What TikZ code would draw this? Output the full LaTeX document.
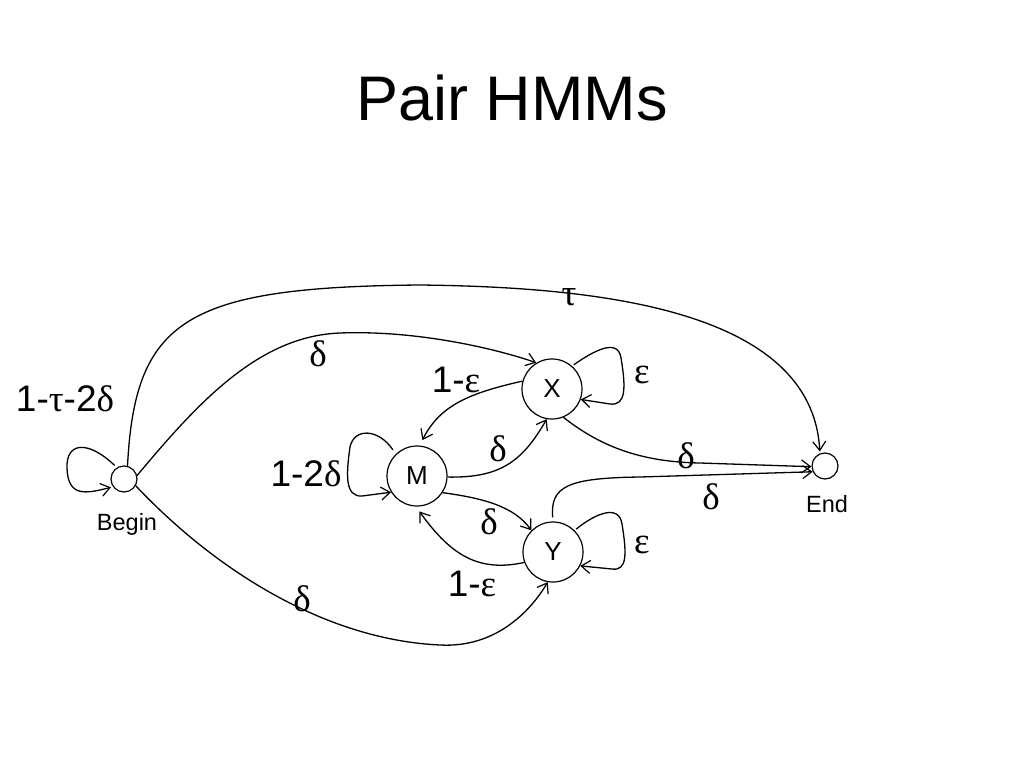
\documentclass[tikz,border=0pt]{standalone}
\usepackage{fontspec}
\setmainfont{Liberation Sans}
\newfontfamily\greekfont{Liberation Serif}
\usetikzlibrary{arrows.meta}
\newcommand{\gr}[1]{{\greekfont #1}}
\begin{document}
\begin{tikzpicture}[x=1pt,y=-1pt,
  stbig/.style={circle,draw,line width=1.2pt,inner sep=0pt,font=\fontsize{26}{28}\selectfont},
  stsmall/.style={circle,draw,line width=1.2pt,inner sep=0pt,minimum size=26pt},
  conn/.style={line width=1.3pt,-{Straight Barb[length=9pt,width=13pt,line width=1.2pt]}},
  lbl/.style={inner sep=0pt,font=\fontsize{37}{40}\selectfont},
  glbl/.style={inner sep=0pt,font=\fontsize{37}{40}\greekfont},
  nmlbl/.style={inner sep=0pt,font=\fontsize{23.5}{26}\selectfont}]
\useasboundingbox (0,0) rectangle (1024,768);
\fill[white] (0,0) rectangle (1024,768);
\node[inner sep=0pt,font=\fontsize{63}{70}\selectfont] (title) at (512,98) {Pair HMMs};
% states
\node[stsmall] (B) at (124,479) {};
\node[stsmall] (E) at (825,466) {};
\node[stbig,minimum size=60pt] (M) at (417,476) {M};
\node[stbig,minimum size=60pt] (X) at (552,389) {X};
\node[stbig,minimum size=60pt] (Y) at (553,552) {Y};
\node[nmlbl] (Bl) at (127,524) {Begin};
\node[nmlbl] (El) at (827,504) {End};
% self loops
\draw[conn,shorten <=3pt,shorten >=2pt] (B.122) .. controls (88,440) and (66,442) .. (67,468) .. controls (68,497) and (85,494) .. (B.215);
\draw[conn,shorten <=5pt] (M.134) .. controls (378,428) and (354,428) .. (350,447) .. controls (346,475) and (345,497) .. (362,496) -- (M.212);
\draw[conn,shorten <=2pt] (X.49) .. controls (595,350) and (618,338) .. (621,358) .. controls (626,388) and (626,406) .. (610,404) -- (X.-20);
\draw[conn,shorten <=2pt] (Y.45) .. controls (596,513) and (619,504) .. (622,524) .. controls (627,555) and (627,571) .. (612,569) -- (Y.-27);
% transitions
\draw[conn,shorten >=2pt] (B.75) .. controls (135,320) and (185,287) .. (420,285) .. controls (600,287) and (812,310) .. (E.112);
\draw[conn] (B.15) .. controls (200,400) and (260,336) .. (340,333) .. controls (420,330) and (500,350) .. (X.121);
\draw[conn] (B.-30) .. controls (220,575) and (330,640) .. (440,645) .. controls (495,648) and (530,612) .. (Y.-100);
\draw[conn,shorten >=6pt] (X.165) .. controls (470,393) and (440,405) .. (M.85);
\draw[conn] (M.-2) .. controls (500,478) and (522,462) .. (X.260);
\draw[conn] (X.-68) .. controls (600,446) and (640,462) .. (700,463) -- (E.183);
\draw[conn,shorten <=4pt] (Y.90) .. controls (550,486) and (568,478) .. (640,477) -- (E.205);
\draw[conn] (M.-33) .. controls (482,498) and (514,506) .. (Y.135);
\draw[conn,shorten >=6pt] (Y.200) .. controls (480,572) and (452,557) .. (M.-92);
% labels
\node[lbl] (l1) at (65,399) {1-\gr{τ}-2\gr{δ}};
\node[lbl] (l2) at (306,474) {1-2\gr{δ}};
\node[lbl] (l3) at (456,380) {1-\gr{ε}};
\node[lbl] (l4) at (472,584) {1-\gr{ε}};
\node[glbl] (d1) at (318,354) {δ};
\node[glbl] (d2) at (498,449) {δ};
\node[glbl] (d3) at (686,456) {δ};
\node[glbl] (d4) at (711,497) {δ};
\node[glbl] (d5) at (489,522) {δ};
\node[glbl] (d6) at (302,599) {δ};
\node[glbl] (t1) at (569,297) {τ};
\node[glbl] (e1) at (642,375) {ε};
\node[glbl] (e2) at (642,545) {ε};
\end{tikzpicture}
\end{document}
